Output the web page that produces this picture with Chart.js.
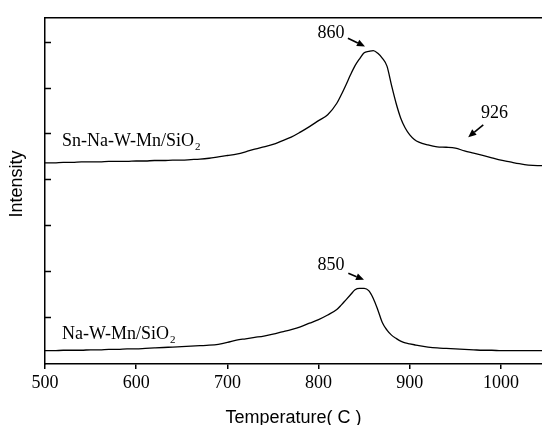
<!DOCTYPE html>
<html>
<head>
<meta charset="utf-8">
<script src="https://cdn.jsdelivr.net/npm/chart.js@4.4.0/dist/chart.umd.min.js"></script>
<style>
  body { margin: 0; background: #fff; }
  canvas { display: block; }
</style>
</head>
<body>
<canvas id="tpr" width="542" height="425"></canvas>
<script>
//Temperaturas del eje x (°C)
const temperaturas = [
    500, 510, 520, 530, 540, 550, 560, 570, 580, 590,
    600, 610, 620, 630, 640, 650, 660, 670, 680, 690,
    700, 710, 720, 730, 740, 750, 760, 770, 780, 790,
    800, 810, 820,
    825, 830, 835, 840, 845, 850, 855, 860, 865, 870,
    875, 880, 885, 890, 895, 900, 905, 910,
    920, 930, 940, 950, 960, 970, 980, 990, 1000, 1010,
    1020, 1030, 1040, 1050
];

//Señal de Sn-Na-W-Mn/SiO2 (curva de arriba)
const senalSnNaWMn = [
    4.36, 4.36, 4.37, 4.37, 4.38, 4.38, 4.38, 4.39, 4.39, 4.39,
    4.40, 4.40, 4.41, 4.41, 4.42, 4.42, 4.43, 4.44, 4.46, 4.49,
    4.52, 4.55, 4.60, 4.66, 4.71, 4.76, 4.84, 4.92, 5.03, 5.15,
    5.28, 5.41, 5.66,
    5.85, 6.06, 6.28, 6.48, 6.63, 6.76, 6.79, 6.81, 6.75, 6.64,
    6.47, 6.05, 5.66, 5.34, 5.12, 4.97, 4.87, 4.81,
    4.75, 4.71, 4.70, 4.68, 4.62, 4.57, 4.52, 4.47, 4.42, 4.38,
    4.34, 4.31, 4.30, 4.30
];

//Señal de Na-W-Mn/SiO2 (curva de abajo)
const senalNaWMn = [
    0.26, 0.26, 0.27, 0.27, 0.27, 0.28, 0.28, 0.29, 0.29, 0.30,
    0.30, 0.31, 0.32, 0.33, 0.34, 0.35, 0.36, 0.37, 0.38, 0.40,
    0.44, 0.49, 0.52, 0.55, 0.58, 0.62, 0.67, 0.72, 0.78, 0.86,
    0.94, 1.04, 1.16,
    1.26, 1.37, 1.48, 1.59, 1.62, 1.62, 1.57, 1.40, 1.15, 0.87,
    0.71, 0.60, 0.53, 0.47, 0.43, 0.41, 0.39, 0.37,
    0.34, 0.32, 0.31, 0.30, 0.29, 0.28, 0.27, 0.27, 0.26, 0.26,
    0.26, 0.26, 0.26, 0.26
];

//Marcas de los ejes
const marcasX = [500, 600, 700, 800, 900, 1000];
const marcasY = [1, 2, 3, 4, 5, 6, 7];

//Textos del gráfico
const nombresMuestra = ['Sn-Na-W-Mn/SiO', 'Na-W-Mn/SiO'];
const etiquetasPico = ['860', '850', '926'];
const tituloX = 'Temperature( C )';
const tituloY = 'Intensity';

//Dónde va cada texto y flecha (en unidades de los ejes)
const posNombres = [[518.6, 4.73], [518.6, 0.52]];
const posPicos = [[813.6, 7.08], [813.6, 2.03], [992.9, 5.34]];
const flechas = [
    [[832.2, 7.08], [850.9, 6.90]],
    [[832.6, 1.95], [849.8, 1.81]],
    [[980.6, 5.19], [964.1, 4.92]]
];

const serif = '"Liberation Serif", "Times New Roman", serif';
const sans = '"Liberation Sans", Arial, sans-serif';

//Dibujar una flecha con punta rellena
function flecha(ctx, x1, y1, x2, y2) {
    const ang = Math.atan2(y2 - y1, x2 - x1);
    const largo = 8, ancho = 3.5;
    const bx = x2 - largo * Math.cos(ang), by = y2 - largo * Math.sin(ang);
    ctx.beginPath();
    ctx.moveTo(x1, y1);
    ctx.lineTo(bx, by);
    ctx.stroke();
    ctx.beginPath();
    ctx.moveTo(x2, y2);
    ctx.lineTo(bx + ancho * Math.sin(ang), by - ancho * Math.cos(ang));
    ctx.lineTo(bx - ancho * Math.sin(ang), by + ancho * Math.cos(ang));
    ctx.closePath();
    ctx.fill();
}

//Plugin para marcas interiores del eje y, etiquetas y flechas
const pluginAnotaciones = {
    id: 'anotaciones',
    afterDraw(chart) {
        const { ctx, chartArea, scales: { x, y } } = chart;
        ctx.save();
        ctx.strokeStyle = '#000';
        ctx.fillStyle = '#000';
        ctx.lineWidth = 1.5;

        // marcas del eje y hacia adentro
        y.ticks.forEach(t => {
            const py = Math.round(y.getPixelForValue(t.value)) + 0.5;
            ctx.beginPath();
            ctx.moveTo(chartArea.left, py);
            ctx.lineTo(chartArea.left + 6, py);
            ctx.stroke();
        });

        // nombres de las muestras con subíndice
        ctx.textAlign = 'left';
        ctx.textBaseline = 'alphabetic';
        nombresMuestra.forEach((nombre, i) => {
            const px = x.getPixelForValue(posNombres[i][0]);
            const py = y.getPixelForValue(posNombres[i][1]);
            ctx.font = '18px ' + serif;
            ctx.fillText(nombre, px, py);
            const w = ctx.measureText(nombre).width;
            ctx.font = '11px ' + serif;
            ctx.fillText('2', px + w + 1, py + 4);
        });

        // valores de los picos
        ctx.font = '18px ' + serif;
        ctx.textAlign = 'center';
        etiquetasPico.forEach((txt, i) => {
            ctx.fillText(txt, x.getPixelForValue(posPicos[i][0]), y.getPixelForValue(posPicos[i][1]));
        });

        // flechas
        ctx.lineWidth = 1.6;
        flechas.forEach(([a, b]) => {
            flecha(ctx,
                x.getPixelForValue(a[0]), y.getPixelForValue(a[1]),
                x.getPixelForValue(b[0]), y.getPixelForValue(b[1]));
        });

        // título del eje y
        ctx.font = '18px ' + sans;
        ctx.textBaseline = 'middle';
        ctx.translate(17, 184);
        ctx.rotate(-Math.PI / 2);
        ctx.fillText(tituloY, 0, 0);
        ctx.restore();
    }
};

//Armar los puntos de cada curva
const puntosSn = temperaturas.map((t, i) => ({ x: t, y: senalSnNaWMn[i] }));
const puntosNa = temperaturas.map((t, i) => ({ x: t, y: senalNaWMn[i] }));

const lienzo = document.getElementById('tpr');

new Chart(lienzo, {
    type: 'line',
    data: {
        datasets: [{
            label: 'Sn-Na-W-Mn/SiO2',
            data: puntosSn,
            borderColor: '#000',
            borderWidth: 1.3,
            pointRadius: 0,
            cubicInterpolationMode: 'monotone'
        }, {
            label: 'Na-W-Mn/SiO2',
            data: puntosNa,
            borderColor: '#000',
            borderWidth: 1.3,
            pointRadius: 0,
            cubicInterpolationMode: 'monotone'
        }]
    },
    options: {
        responsive: false,
        animation: false,
        layout: { padding: 0 },
        plugins: {
            legend: { display: false },
            tooltip: { enabled: false }
        },
        scales: {
            x: {
                type: 'linear',
                position: 'bottom',
                min: 500,
                max: 1045,
                afterBuildTicks: s => { s.ticks = marcasX.map(v => ({ value: v })); },
                afterFit: s => { s.height = 61; },
                ticks: {
                    color: '#000',
                    padding: 3,
                    maxRotation: 0,
                    font: { family: serif, size: 18 },
                    callback: v => String(v)
                },
                grid: {
                    display: true,
                    drawOnChartArea: false,
                    drawTicks: true,
                    tickLength: 5,
                    color: '#000',
                    lineWidth: 1.5
                },
                border: { display: true, color: '#000', width: 1.5 },
                title: {
                    display: true,
                    text: tituloX,
                    color: '#000',
                    font: { family: sans, size: 18, lineHeight: 1 },
                    padding: { top: 0, bottom: -2 }
                }
            },
            xArriba: {
                type: 'linear',
                position: 'top',
                min: 500,
                max: 1045,
                afterFit: s => { s.height = 18; },
                ticks: { display: false },
                grid: { display: false },
                border: { display: true, color: '#000', width: 1.5 }
            },
            y: {
                type: 'linear',
                position: 'left',
                min: -0.03,
                max: 7.52,
                afterBuildTicks: s => { s.ticks = marcasY.map(v => ({ value: v })); },
                afterFit: s => { s.width = 45; },
                ticks: { display: false },
                grid: { display: false },
                border: { display: true, color: '#000', width: 1.5 }
            }
        }
    },
    plugins: [pluginAnotaciones]
});
</script>
</body>
</html>
